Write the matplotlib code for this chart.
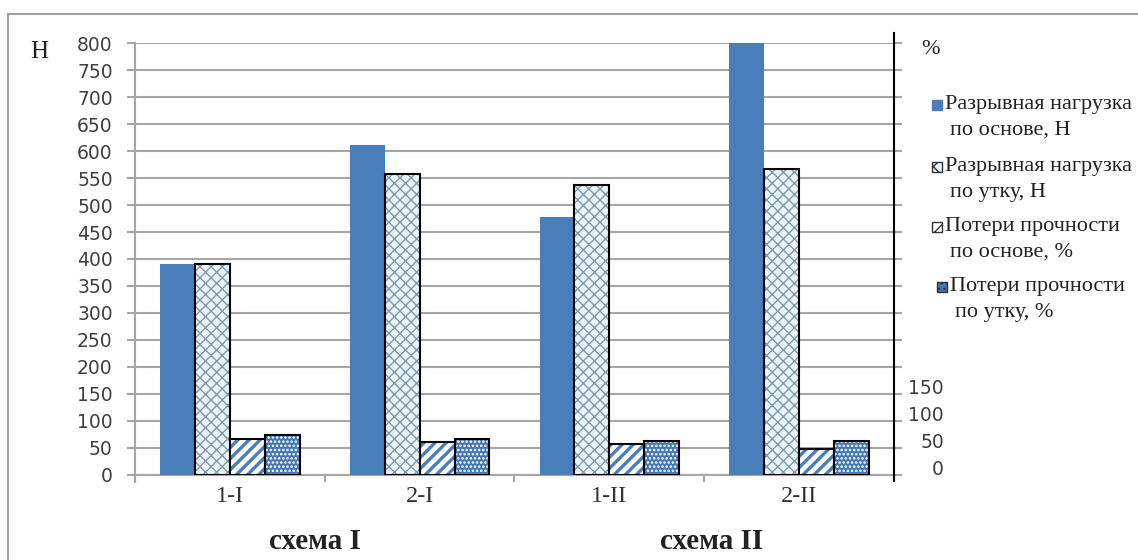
import numpy as np
import matplotlib
matplotlib.use('Agg')
import matplotlib.pyplot as plt
from matplotlib.patches import Rectangle

# samples and measured values
samples = ['1-I', '2-I', '1-II', '2-II']
load_warp = [391, 611, 478, 800]      # Н
load_weft = [391, 557, 537, 567]      # Н
loss_warp = [54, 48, 44, 35]          # %
loss_weft = [61, 54, 50, 50]          # %

left_ticks = list(range(0, 801, 50))
right_ticks = [0, 50, 100, 150]
schemes = ['схема I', 'схема II']
scheme_pos = [0.45, 2.54]

series_labels = [('Разрывная нагрузка', 'по основе, Н'),
                 ('Разрывная нагрузка', 'по утку, Н'),
                 ('Потери прочности', 'по основе, %'),
                 ('Потери прочности', 'по утку, %')]

BLUE = '#4a7ebb'
DOT_BLUE = '#4577b2'
CROSS_BG = '#eaf5fb'
CROSS_LINE = '#8199ac'
GRID = '#a6a6a6'
TXT = '#404040'
SERIF = 'Liberation Serif'

W, H = 1138, 560

fig = plt.figure(figsize=(W / 100, H / 100), dpi=100)
ax = fig.add_axes([0.1186, 0.1518, 0.6670, 0.7714])
ax2 = ax.twinx()

x = np.arange(len(samples))
w = 0.184
offs = np.array([-1.5, -0.5, 0.5, 1.5]) * w

# breaking load, primary axis
ax.bar(x + offs[0], load_warp, w, color=BLUE, linewidth=0, zorder=3)
with plt.rc_context({'hatch.linewidth': 1.0}):
    ax.bar(x + offs[1], load_weft, w, color=CROSS_BG, edgecolor=CROSS_LINE,
           hatch='xxx', linewidth=0, zorder=3)
ax.bar(x + offs[1], load_weft, w, facecolor='none', edgecolor='black',
       linewidth=1.5, zorder=4)

# strength loss, secondary axis (its zero sits a little above the base line)
r_lo = -13
ax2.set_ylim(r_lo, r_lo + 800)
lw_h = np.array(loss_warp) - r_lo
lf_h = np.array(loss_weft) - r_lo
with plt.rc_context({'hatch.linewidth': 2.4}):
    ax2.bar(x + offs[2], lw_h, w, bottom=r_lo, color='white', edgecolor=BLUE,
            hatch='///', linewidth=0, zorder=3)
with plt.rc_context({'hatch.linewidth': 1.2}):
    ax2.bar(x + offs[3], lf_h, w, bottom=r_lo, color=DOT_BLUE,
            edgecolor='white', hatch='....', linewidth=0, zorder=3)
ax2.bar(x + offs[2], lw_h, w, bottom=r_lo, facecolor='none',
        edgecolor='black', linewidth=1.5, zorder=4)
ax2.bar(x + offs[3], lf_h, w, bottom=r_lo, facecolor='none',
        edgecolor='black', linewidth=1.5, zorder=4)

# primary axis styling
ax.set_xlim(-0.5, len(samples) - 0.5)
ax.set_ylim(0, 800)
ax.set_yticks(left_ticks)
ax.set_yticklabels([str(t) for t in left_ticks], fontsize=13.5, color=TXT)
ax.yaxis.grid(True, color=GRID, linewidth=1.5, zorder=0)
ax.set_axisbelow(True)
ax.tick_params(axis='y', length=6, width=1.5, color=GRID, pad=10,
               right=True, labelright=False)
ax.set_xticks(x)
ax.set_xticklabels(samples, fontsize=17.5, family=SERIF, color='#333333')
ax.set_xticks(np.arange(-0.5, len(samples)), minor=True)
ax.tick_params(axis='x', which='major', length=0, pad=8)
ax.tick_params(axis='x', which='minor', length=5, width=1.5, color=GRID)
for s in ['top', 'right']:
    ax.spines[s].set_visible(False)
ax.spines['left'].set_color(GRID)
ax.spines['left'].set_linewidth(1.5)
ax.spines['left'].set_bounds(-13, 800)
ax.spines['bottom'].set_color(GRID)
ax.spines['bottom'].set_linewidth(1.5)

# secondary axis styling
ax2.set_yticks(right_ticks)
ax2.set_yticklabels([str(t) for t in right_ticks], fontsize=13.5, color=TXT,
                    ha='right')
ax2.tick_params(axis='y', length=0, pad=36)
for s in ['top', 'left', 'bottom']:
    ax2.spines[s].set_visible(False)
ax2.spines['right'].set_color('black')
ax2.spines['right'].set_linewidth(1.5)
ax2.spines['right'].set_bounds(r_lo - 11, r_lo + 818)

# scheme captions
for pos, name in zip(scheme_pos, schemes):
    ax.text(pos, -0.155, name, transform=ax.get_xaxis_transform(),
            ha='center', va='center', fontsize=21, fontweight='bold',
            family=SERIF, color='#222222')

# unit captions
fig.text(39 / W, 1 - 52 / H, 'Н', ha='center', va='center',
         fontsize=18, family=SERIF, color='#222222')
fig.text(930 / W, 1 - 50 / H, '%', ha='center', va='center',
         fontsize=16, family=SERIF, color='#222222')

# legend: key square on the first line, second line slightly indented
keys = [dict(facecolor=BLUE, edgecolor=BLUE),
        dict(facecolor=CROSS_BG, edgecolor='#333333', hatch='xx'),
        dict(facecolor='white', edgecolor='#333333', hatch='///'),
        dict(facecolor=DOT_BLUE, edgecolor='#333333', hatch='...')]
key_x = [932, 932, 932, 937]
entry_y = [105, 167, 227, 287]
for (l1, l2), key, kx, ey in zip(series_labels, keys, key_x, entry_y):
    fig.patches.append(Rectangle((kx / W, 1 - (ey + 5) / H), 10 / W, 10 / H,
                                 transform=fig.transFigure, linewidth=1,
                                 **key))
    fig.text((kx + 13) / W, 1 - ey / H, l1, ha='left', va='center',
             fontsize=16, family=SERIF, color='#222222')
    fig.text((kx + 18) / W, 1 - (ey + 25) / H, l2, ha='left', va='center',
             fontsize=16, family=SERIF, color='#222222')

# outer frame
fig.patches.append(Rectangle((8 / W, -0.1), 1.2, 1 - 14 / H + 0.1,
                             transform=fig.transFigure, fill=False,
                             edgecolor='#a0a0a0', linewidth=1.5,
                             clip_on=False))

fig.savefig('out.png', dpi=100)
